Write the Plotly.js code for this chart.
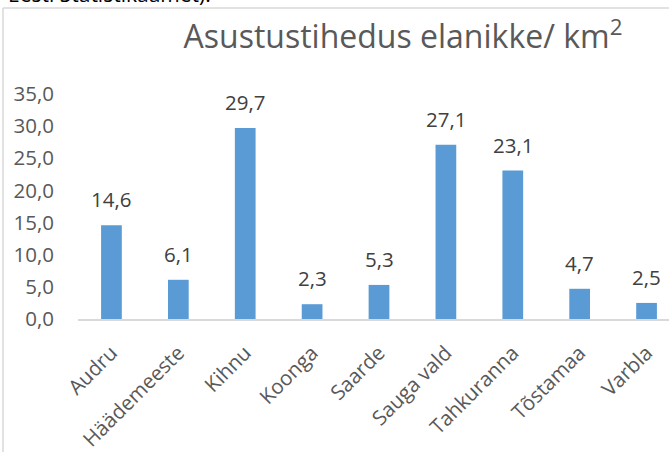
<!DOCTYPE html>
<html>
<head>
<meta charset="utf-8">
<script src="https://cdn.plot.ly/plotly-3.0.1.min.js"></script>
<style>
html,body{margin:0;padding:0;overflow:hidden;background:#fff;width:669px;height:452px;}
#chart{width:682px;height:452px;}
</style>
</head>
<body>
<div id="chart"></div>
<script>
const categories = ["Audru","Häädemeeste","Kihnu","Koonga","Saarde","Sauga vald","Tahkuranna","Tõstamaa","Varbla"];
const density = [14.6, 6.1, 29.7, 2.3, 5.3, 27.1, 23.1, 4.7, 2.5];
const yTicks = [0, 5, 10, 15, 20, 25, 30, 35];
const yTickLabels = ["0,0","5,0","10,0","15,0","20,0","25,0","30,0","35,0"];
const titleText = "Asustustihedus elanikke/ km<sup>2</sup>";
const topText = "Eesti Statistikaamet).";

const FONT = "Open Sans, Noto Sans, sans-serif";

const W = 682, H = 452, L = 78, R = 2, T = 94, B = 133;
const pw = W - L - R, ph = H - T - B;
const px2x = p => (p - L) / pw;
const py2y = p => (H - B - p) / ph;

const trace = {
  type: "bar",
  x: categories,
  y: density,
  marker: {color: "#5B9BD5"},
  hoverinfo: "x+y"
};

const labelAnns = categories.map((c, i) => ({
  x: c, y: density[i], xref: "x", yref: "y",
  text: density[i].toFixed(1).replace(".", ","),
  showarrow: false, yanchor: "bottom", yshift: 10,
  font: {family: FONT, size: 20.5, color: "#404040"}
}));

const layout = {
  width: W, height: H,
  margin: {l: L, r: R, t: T, b: B, pad: 0},
  paper_bgcolor: "#ffffff",
  plot_bgcolor: "#ffffff",
  showlegend: false,
  bargap: 0.69,
  separators: ", ",
  title: {
    text: titleText,
    xref: "container", x: 403 / W, xanchor: "center",
    yref: "container", y: 1 - 37 / H, yanchor: "middle",
    font: {family: FONT, size: 32, color: "#595959"}
  },
  xaxis: {
    type: "category",
    range: [-0.5, 8.5],
    showgrid: false, zeroline: false,
    showline: true, linecolor: "#D9D9D9", linewidth: 1.5,
    ticks: "", tickangle: -45,
    ticklabelstandoff: 12,
    tickfont: {family: FONT, size: 20.5, color: "#595959"}
  },
  yaxis: {
    range: [0, 35],
    tickvals: yTicks, ticktext: yTickLabels,
    showgrid: false, zeroline: false, showline: false,
    ticks: "", ticklabelstandoff: 23,
    tickfont: {family: FONT, size: 20.5, color: "#595959"}
  },
  shapes: [
    {type: "line", xref: "paper", yref: "paper",
     x0: px2x(3), x1: px2x(W), y0: py2y(8), y1: py2y(8),
     line: {color: "#D9D9D9", width: 1.5}},
    {type: "line", xref: "paper", yref: "paper",
     x0: px2x(3), x1: px2x(3), y0: py2y(8), y1: py2y(H + 2),
     line: {color: "#D9D9D9", width: 1.5}}
  ],
  annotations: labelAnns.concat([
    {xref: "paper", yref: "paper", x: px2x(6), y: py2y(10),
     xanchor: "left", yanchor: "bottom", showarrow: false,
     text: topText,
     font: {family: FONT, size: 21, color: "#000000"}}
  ])
};

Plotly.newPlot("chart", [trace], layout, {displayModeBar: false, responsive: false});
</script>
</body>
</html>
